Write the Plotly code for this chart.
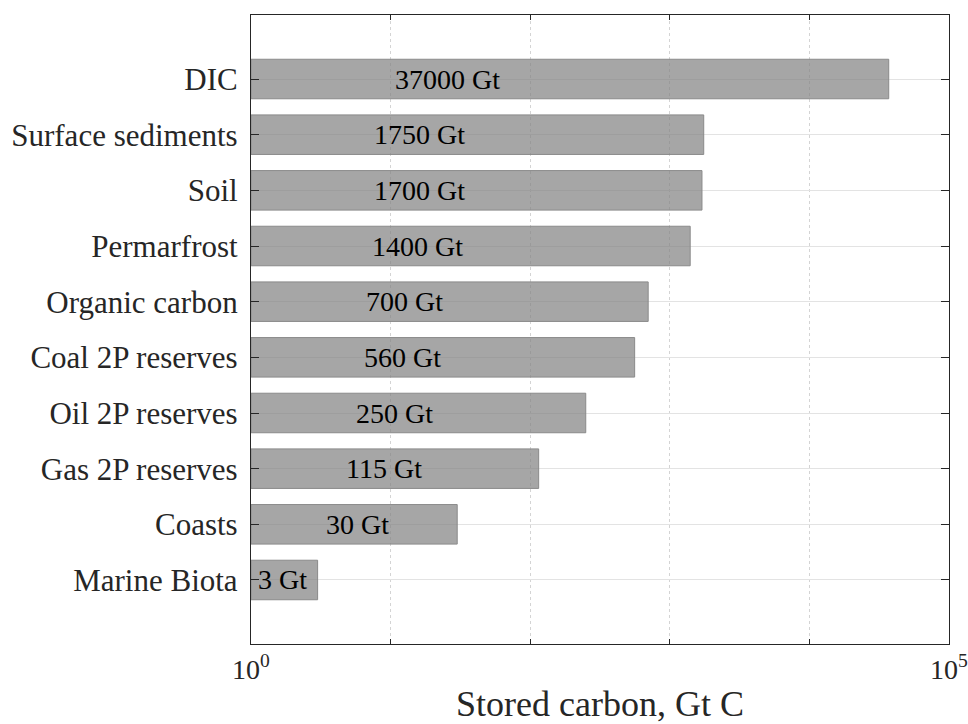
import numpy as np
import plotly.graph_objects as go

# Data (top to bottom as shown)
categories = ["DIC", "Surface sediments", "Soil", "Permarfrost", "Organic carbon",
              "Coal 2P reserves", "Oil 2P reserves", "Gas 2P reserves", "Coasts", "Marine Biota"]
values = [37000, 1750, 1700, 1400, 700, 560, 250, 115, 30, 3]
value_labels = ["37000 Gt", "1750 Gt", "1700 Gt", "1400 Gt", "700 Gt",
                "560 Gt", "250 Gt", "115 Gt", "30 Gt", "3 Gt"]
x_tickvals = [1, 100000]
x_ticktext = ["10<sup>0</sup>", "10<sup>5</sup>"]
x_minor_tickvals = [10, 100, 1000, 10000]

FONT = "Liberation Serif"
vals = np.array(values, dtype=float)

fig = go.Figure()
fig.add_trace(go.Bar(
    y=categories,
    x=vals - 1,
    base=1,
    orientation="h",
    width=0.71,
    marker=dict(color="rgba(130,130,130,0.71)",
                line=dict(color="#8a8a8a", width=1)),
    hoverinfo="skip",
))

# value labels, left-aligned at x = ln(value) as in the original
for cat, v, lab in zip(categories, vals, value_labels):
    fig.add_annotation(
        x=np.log10(np.log(v)), y=cat, xref="x", yref="y",
        text=lab, showarrow=False, xanchor="left", yanchor="middle",
        borderpad=0,
        font=dict(family=FONT, size=28, color="#000000"),
    )

fig.update_layout(
    width=968, height=724,
    margin=dict(l=251, r=19, t=15, b=80),
    paper_bgcolor="white", plot_bgcolor="white",
    showlegend=False,
    hovermode=False,
    font=dict(family=FONT, size=31, color="#262626"),
)

fig.update_xaxes(
    type="log",
    range=[-0.00001, 5.00001],
    tickmode="array",
    tickvals=x_tickvals,
    ticktext=x_ticktext,
    ticks="inside", ticklen=5, tickwidth=1, tickcolor="#262626",
    showline=True, linecolor="#262626", linewidth=1.3, mirror="ticks",
    showgrid=False,
    minor=dict(tickmode="array", tickvals=x_minor_tickvals,
               ticks="inside", ticklen=5, tickwidth=1, tickcolor="#262626",
               showgrid=True, gridcolor="#d4d4d4", griddash="dot", gridwidth=1),
    zeroline=False,
    automargin=False,
    ticklabeloverflow="allow",
    tickfont=dict(family=FONT, size=28, color="#262626"),
    title=dict(text="Stored carbon, Gt C",
               font=dict(family=FONT, size=36, color="#262626"), standoff=10),
)

fig.update_yaxes(
    type="category",
    categoryorder="array",
    categoryarray=categories[::-1],
    range=[-1.15, len(categories) - 1 + 1.15],
    ticks="inside", ticklen=8, tickwidth=1, tickcolor="#262626",
    showline=True, linecolor="#262626", linewidth=1.3, mirror="ticks",
    showgrid=True, gridcolor="#e3e3e3", gridwidth=1,
    zeroline=False,
    automargin=False,
    ticklabelstandoff=6,
    tickfont=dict(family=FONT, size=31, color="#262626"),
)

fig.write_html("out.html")
